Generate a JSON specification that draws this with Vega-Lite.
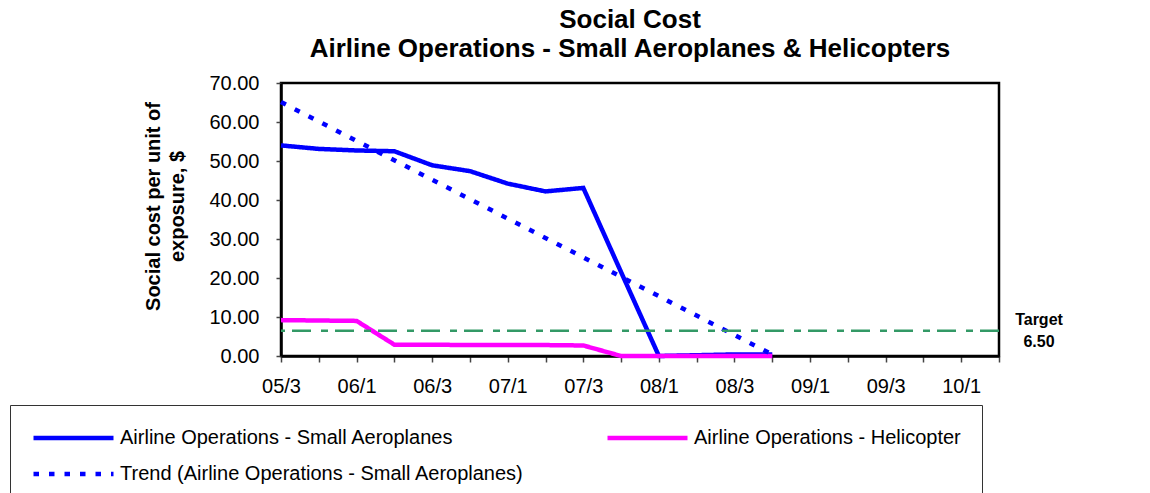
{
  "$schema": "https://vega.github.io/schema/vega-lite/v6.json",
  "width": 718,
  "height": 273,
  "autosize": {"type": "none"},
  "padding": {"left": 281, "top": 83, "right": 151, "bottom": 137},
  "background": "white",
  "title": {
    "text": ["Social Cost", "Airline Operations - Small Aeroplanes & Helicopters"],
    "font": "Liberation Sans",
    "fontSize": 26,
    "fontWeight": "bold",
    "color": "black",
    "lineHeight": 29,
    "anchor": "middle",
    "offset": 11,
    "dx": -10
  },
  "config": {
    "font": "Liberation Sans",
    "view": {"stroke": "black", "strokeWidth": 2.5},
    "axis": {
      "labelFontSize": 20,
      "labelColor": "black",
      "labelFlush": false,
      "labelOverlap": false,
      "tickColor": "#444444",
      "tickWidth": 1.5,
      "domainColor": "black",
      "domainWidth": 2.5,
      "grid": false
    },
    "axisX": {
      "labelAngle": 0,
      "labelPadding": 14,
      "tickSize": 6
    },
    "axisY": {
      "labelPadding": 17,
      "tickSize": 5,
      "titleFontSize": 20,
      "titleFontWeight": "bold",
      "titleColor": "black",
      "titleLineHeight": 24,
      "titleAngle": -90,
      "titleAlign": "center",
      "titleBaseline": "middle",
      "titleX": -128,
      "titleY": 123
    }
  },
  "datasets": {
    "costs": [
      {"series": "Airline Operations - Small Aeroplanes", "quarter": "05/3", "cost": 54.0},
      {"series": "Airline Operations - Small Aeroplanes", "quarter": "05/4", "cost": 53.1},
      {"series": "Airline Operations - Small Aeroplanes", "quarter": "06/1", "cost": 52.7},
      {"series": "Airline Operations - Small Aeroplanes", "quarter": "06/2", "cost": 52.5},
      {"series": "Airline Operations - Small Aeroplanes", "quarter": "06/3", "cost": 48.9},
      {"series": "Airline Operations - Small Aeroplanes", "quarter": "06/4", "cost": 47.4},
      {"series": "Airline Operations - Small Aeroplanes", "quarter": "07/1", "cost": 44.2},
      {"series": "Airline Operations - Small Aeroplanes", "quarter": "07/2", "cost": 42.2},
      {"series": "Airline Operations - Small Aeroplanes", "quarter": "07/3", "cost": 43.1},
      {"series": "Airline Operations - Small Aeroplanes", "quarter": "07/4", "cost": 21.5},
      {"series": "Airline Operations - Small Aeroplanes", "quarter": "08/1", "cost": 0.0},
      {"series": "Airline Operations - Small Aeroplanes", "quarter": "08/2", "cost": 0.2},
      {"series": "Airline Operations - Small Aeroplanes", "quarter": "08/3", "cost": 0.4},
      {"series": "Airline Operations - Small Aeroplanes", "quarter": "08/4", "cost": 0.4},
      {"series": "Airline Operations - Helicopter", "quarter": "05/3", "cost": 9.2},
      {"series": "Airline Operations - Helicopter", "quarter": "05/4", "cost": 9.1},
      {"series": "Airline Operations - Helicopter", "quarter": "06/1", "cost": 9.0},
      {"series": "Airline Operations - Helicopter", "quarter": "06/2", "cost": 2.9},
      {"series": "Airline Operations - Helicopter", "quarter": "06/3", "cost": 2.9},
      {"series": "Airline Operations - Helicopter", "quarter": "06/4", "cost": 2.8},
      {"series": "Airline Operations - Helicopter", "quarter": "07/1", "cost": 2.8},
      {"series": "Airline Operations - Helicopter", "quarter": "07/2", "cost": 2.8},
      {"series": "Airline Operations - Helicopter", "quarter": "07/3", "cost": 2.7},
      {"series": "Airline Operations - Helicopter", "quarter": "07/4", "cost": 0.0},
      {"series": "Airline Operations - Helicopter", "quarter": "08/1", "cost": 0.0},
      {"series": "Airline Operations - Helicopter", "quarter": "08/2", "cost": 0.0},
      {"series": "Airline Operations - Helicopter", "quarter": "08/3", "cost": 0.0},
      {"series": "Airline Operations - Helicopter", "quarter": "08/4", "cost": 0.0},
      {"series": "Trend (Airline Operations - Small Aeroplanes)", "quarter": "05/3", "cost": 65.1},
      {"series": "Trend (Airline Operations - Small Aeroplanes)", "quarter": "08/4", "cost": 0.4}
    ],
    "target": [{"label": "Target", "value": 6.5}]
  },
  "layer": [
    {
      "data": {"name": "costs"},
      "mark": {"type": "line"},
      "encoding": {
        "x": {
          "field": "quarter",
          "type": "ordinal",
          "sort": null,
          "scale": {
            "type": "point",
            "padding": 0,
            "domain": ["05/3", "05/4", "06/1", "06/2", "06/3", "06/4", "07/1", "07/2", "07/3", "07/4",
                       "08/1", "08/2", "08/3", "08/4", "09/1", "09/2", "09/3", "09/4", "10/1", "10/2"]
          },
          "axis": {
            "title": null,
            "labelExpr": "indexof(['1','3'], slice(datum.value, -1)) >= 0 ? datum.value : ''"
          }
        },
        "y": {
          "field": "cost",
          "type": "quantitative",
          "scale": {"domain": [0, 70], "nice": false},
          "axis": {
            "values": [0, 10, 20, 30, 40, 50, 60, 70],
            "format": ".2f",
            "title": ["Social cost per unit of", "exposure, $"]
          }
        },
        "color": {
          "field": "series",
          "type": "nominal",
          "scale": {
            "domain": ["Airline Operations - Small Aeroplanes", "Airline Operations - Helicopter", "Trend (Airline Operations - Small Aeroplanes)"],
            "range": ["#0000FF", "#FF00FF", "#0000FF"]
          },
          "legend": {
            "title": null,
            "orient": "none",
            "legendX": -271,
            "legendY": 322,
            "direction": "horizontal",
            "columns": 2,
            "gridAlign": "each",
            "columnPadding": 81,
            "rowPadding": 12,
            "symbolType": "stroke",
            "symbolSize": 6400,
            "clipHeight": 24,
            "labelFont": "Liberation Sans",
            "labelFontSize": 20,
            "labelColor": "black",
            "labelOffset": 4,
            "labelLimit": 0,
            "strokeColor": "#333333",
            "fillColor": "white",
            "padding": 21
          }
        },
        "strokeDash": {
          "field": "series",
          "type": "nominal",
          "scale": {
            "domain": ["Airline Operations - Small Aeroplanes", "Airline Operations - Helicopter", "Trend (Airline Operations - Small Aeroplanes)"],
            "range": [[1, 0], [1, 0], [5.5, 10]]
          }
        },
        "strokeWidth": {
          "field": "series",
          "type": "nominal",
          "scale": {
            "domain": ["Airline Operations - Small Aeroplanes", "Airline Operations - Helicopter", "Trend (Airline Operations - Small Aeroplanes)"],
            "range": [4.5, 4.5, 2.5]
          }
        }
      }
    },
    {
      "data": {"name": "target"},
      "mark": {"type": "rule", "color": "#339966", "strokeWidth": 2.5, "strokeDash": [19, 7, 7, 10]},
      "encoding": {
        "y": {"field": "value", "type": "quantitative", "axis": {"values": [0, 10, 20, 30, 40, 50, 60, 70], "format": ".2f", "title": ["Social cost per unit of", "exposure, $"]}}
      }
    },
    {
      "data": {"name": "target"},
      "mark": {"type": "text", "font": "Liberation Sans", "fontWeight": "bold", "fontSize": 16, "color": "black", "align": "center", "baseline": "middle", "dx": 40, "dy": -11},
      "encoding": {
        "x": {"datum": "10/2", "type": "ordinal", "axis": {"title": null, "labelExpr": "indexof(['1','3'], slice(datum.value, -1)) >= 0 ? datum.value : ''"}},
        "y": {"field": "value", "type": "quantitative", "axis": {"values": [0, 10, 20, 30, 40, 50, 60, 70], "format": ".2f", "title": ["Social cost per unit of", "exposure, $"]}},
        "text": {"field": "label"}
      }
    },
    {
      "data": {"name": "target"},
      "mark": {"type": "text", "font": "Liberation Sans", "fontWeight": "bold", "fontSize": 16, "color": "black", "align": "center", "baseline": "middle", "dx": 40, "dy": 11},
      "encoding": {
        "x": {"datum": "10/2", "type": "ordinal", "axis": {"title": null, "labelExpr": "indexof(['1','3'], slice(datum.value, -1)) >= 0 ? datum.value : ''"}},
        "y": {"field": "value", "type": "quantitative", "axis": {"values": [0, 10, 20, 30, 40, 50, 60, 70], "format": ".2f", "title": ["Social cost per unit of", "exposure, $"]}},
        "text": {"field": "value", "format": ".2f"}
      }
    }
  ]
}
